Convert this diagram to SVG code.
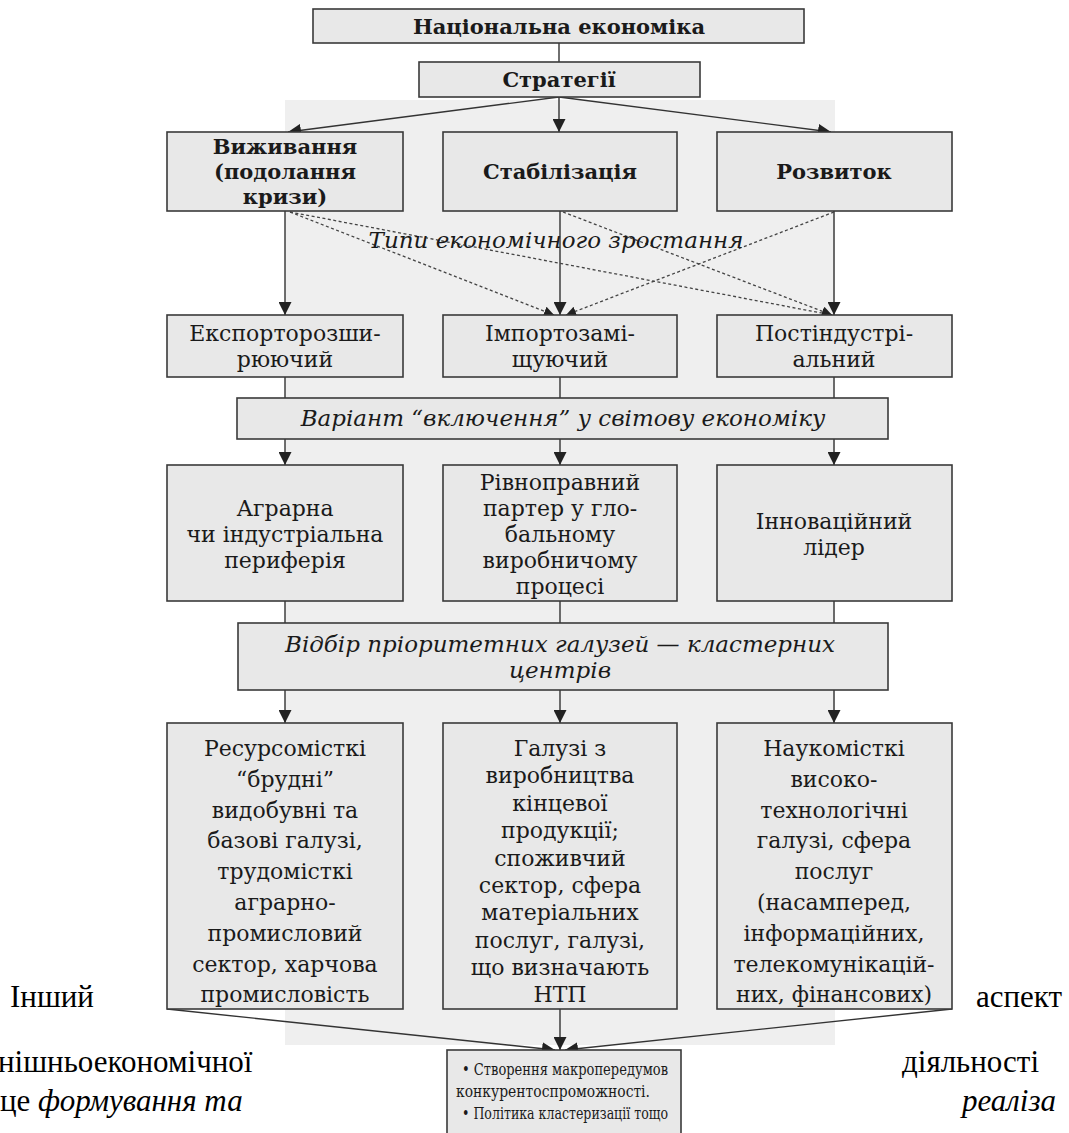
<svg xmlns="http://www.w3.org/2000/svg" width="1069" height="1133" viewBox="0 0 1069 1133">
<defs>
<marker id="ah" viewBox="0 0 10 10" refX="10" refY="5" markerWidth="10" markerHeight="10" markerUnits="userSpaceOnUse" orient="auto"><path d="M0,0 L10,5 L0,10 z" fill="#222"/></marker>
<marker id="ahl" viewBox="0 0 10 10" refX="10" refY="5" markerWidth="13" markerHeight="13" markerUnits="userSpaceOnUse" orient="auto"><path d="M0,0 L10,5 L0,10 z" fill="#222"/></marker>
</defs>
<style>
.box{fill:#e8e8e8;stroke:#3a3a3a;stroke-width:1.6}
.t{font-family:"DejaVu Serif","Liberation Serif",serif;fill:#1a1a1a;text-anchor:middle}
.b{font-weight:bold;font-size:21px}
.r{font-size:22px}
.i{font-style:italic;font-size:23px}
.s{font-size:17px;text-anchor:start}
.c{stroke:#333;stroke-width:1.4;fill:none}
.d{stroke:#444;stroke-width:1.3;stroke-dasharray:3 2.5;fill:none}
.o{font-family:"Liberation Serif","Times New Roman",serif;font-size:31px;fill:#000}
</style>
<rect x="285" y="100" width="550" height="945" fill="#efefef"/>
<g id="connectors">
<line class="c" x1="559" y1="43" x2="559" y2="62"/>
<line class="c" x1="559" y1="97" x2="288" y2="132" marker-end="url(#ahl)"/>
<line class="c" x1="559" y1="97" x2="559" y2="132" marker-end="url(#ahl)"/>
<line class="c" x1="559" y1="97" x2="831" y2="132" marker-end="url(#ahl)"/>
<line class="c" x1="285" y1="211" x2="285" y2="315" marker-end="url(#ahl)"/>
<line class="c" x1="560" y1="211" x2="560" y2="315" marker-end="url(#ahl)"/>
<line class="c" x1="834" y1="211" x2="834" y2="315" marker-end="url(#ahl)"/>
<line class="d" x1="290" y1="212" x2="554" y2="315" marker-end="url(#ah)"/>
<line class="d" x1="290" y1="212" x2="832" y2="315" marker-end="url(#ah)"/>
<line class="d" x1="563" y1="212" x2="832" y2="315" marker-end="url(#ah)"/>
<line class="d" x1="834" y1="212" x2="566" y2="315" marker-end="url(#ah)"/>
<line class="c" x1="285" y1="377" x2="285" y2="398"/>
<line class="c" x1="560" y1="377" x2="560" y2="398"/>
<line class="c" x1="834" y1="377" x2="834" y2="398"/>
<line class="c" x1="285" y1="439" x2="285" y2="465" marker-end="url(#ahl)"/>
<line class="c" x1="560" y1="439" x2="560" y2="465" marker-end="url(#ahl)"/>
<line class="c" x1="834" y1="439" x2="834" y2="465" marker-end="url(#ahl)"/>
<line class="c" x1="285" y1="601" x2="285" y2="623"/>
<line class="c" x1="560" y1="601" x2="560" y2="623"/>
<line class="c" x1="834" y1="601" x2="834" y2="623"/>
<line class="c" x1="285" y1="690" x2="285" y2="723" marker-end="url(#ahl)"/>
<line class="c" x1="560" y1="690" x2="560" y2="723" marker-end="url(#ahl)"/>
<line class="c" x1="834" y1="690" x2="834" y2="723" marker-end="url(#ahl)"/>
<line class="c" x1="167" y1="1009" x2="555" y2="1050" marker-end="url(#ahl)"/>
<line class="c" x1="560" y1="1009" x2="560" y2="1050" marker-end="url(#ahl)"/>
<line class="c" x1="952" y1="1009" x2="565" y2="1050" marker-end="url(#ahl)"/>
</g>
<g id="n-national"><rect class="box" x="313" y="9" width="491" height="34"/><text class="t b" x="559" y="34">Національна економіка</text></g>
<g id="n-strategies"><rect class="box" x="419" y="62" width="281" height="35"/><text class="t b" x="559" y="87">Стратегії</text></g>
<g id="n-survival"><rect class="box" x="167" y="132" width="236" height="79"/><text class="t b" x="285" y="154">Виживання</text><text class="t b" x="285" y="179">(подолання</text><text class="t b" x="285" y="204">кризи)</text></g>
<g id="n-stabilization"><rect class="box" x="443" y="132" width="234" height="79"/><text class="t b" x="560" y="179">Стабілізація</text></g>
<g id="n-development"><rect class="box" x="717" y="132" width="235" height="79"/><text class="t b" x="834" y="179">Розвиток</text></g>
<g id="n-growth-types"><text class="t i" x="556" y="248">Типи економічного зростання</text></g>
<g id="n-export"><rect class="box" x="167" y="315" width="236" height="62"/><text class="t r" x="285" y="341">Експорторозши-</text><text class="t r" x="285" y="367">рюючий</text></g>
<g id="n-import"><rect class="box" x="443" y="315" width="234" height="62"/><text class="t r" x="560" y="341">Імпортозамі-</text><text class="t r" x="560" y="367">щуючий</text></g>
<g id="n-postind"><rect class="box" x="717" y="315" width="235" height="62"/><text class="t r" x="834" y="341">Постіндустрі-</text><text class="t r" x="834" y="367">альний</text></g>
<g id="n-variant"><rect class="box" x="237" y="398" width="651" height="41"/><text class="t i" x="563" y="426">Варіант “включення” у світову економіку</text></g>
<g id="n-agrarian"><rect class="box" x="167" y="465" width="236" height="136"/><text class="t r" x="285" y="516">Аграрна</text><text class="t r" x="285" y="542">чи індустріальна</text><text class="t r" x="285" y="568">периферія</text></g>
<g id="n-partner"><rect class="box" x="443" y="465" width="234" height="136"/><text class="t r" x="560" y="490">Рівноправний</text><text class="t r" x="560" y="516">партер у гло-</text><text class="t r" x="560" y="542">бальному</text><text class="t r" x="560" y="568">виробничому</text><text class="t r" x="560" y="594">процесі</text></g>
<g id="n-innovator"><rect class="box" x="717" y="465" width="235" height="136"/><text class="t r" x="834" y="529">Інноваційний</text><text class="t r" x="834" y="555">лідер</text></g>
<g id="n-selection"><rect class="box" x="238" y="623" width="650" height="67"/><text class="t i" x="560" y="652">Відбір пріоритетних галузей — кластерних</text><text class="t i" x="560" y="678">центрів</text></g>
<g id="n-resource"><rect class="box" x="167" y="723" width="236" height="286"/>
<text class="t r" x="285" y="756">Ресурсомісткі</text><text class="t r" x="285" y="787">“брудні”</text><text class="t r" x="285" y="818">видобувні та</text><text class="t r" x="285" y="848">базові галузі,</text><text class="t r" x="285" y="879">трудомісткі</text><text class="t r" x="285" y="910">аграрно-</text><text class="t r" x="285" y="941">промисловий</text><text class="t r" x="285" y="972">сектор, харчова</text><text class="t r" x="285" y="1002">промисловість</text></g>
<g id="n-final"><rect class="box" x="443" y="723" width="234" height="286"/>
<text class="t r" x="560" y="756">Галузі з</text><text class="t r" x="560" y="783">виробництва</text><text class="t r" x="560" y="811">кінцевої</text><text class="t r" x="560" y="838">продукції;</text><text class="t r" x="560" y="866">споживчий</text><text class="t r" x="560" y="893">сектор, сфера</text><text class="t r" x="560" y="920">матеріальних</text><text class="t r" x="560" y="948">послуг, галузі,</text><text class="t r" x="560" y="975">що визначають</text><text class="t r" x="560" y="1002">НТП</text></g>
<g id="n-science"><rect class="box" x="717" y="723" width="235" height="286"/>
<text class="t r" x="834" y="756">Наукомісткі</text><text class="t r" x="834" y="787">високо-</text><text class="t r" x="834" y="818">технологічні</text><text class="t r" x="834" y="848">галузі, сфера</text><text class="t r" x="834" y="879">послуг</text><text class="t r" x="834" y="910">(насамперед,</text><text class="t r" x="834" y="941">інформаційних,</text><text class="t r" x="834" y="972">телекомунікацій-</text><text class="t r" x="834" y="1002">них, фінансових)</text></g>
<g id="n-result"><rect class="box" x="447" y="1050" width="234" height="95"/>
<text class="t s" x="462" y="1075" textLength="206" lengthAdjust="spacingAndGlyphs">• Створення макропередумов</text><text class="t s" x="456" y="1097" textLength="194" lengthAdjust="spacingAndGlyphs">конкурентоспроможності.</text><text class="t s" x="462" y="1119" textLength="206" lengthAdjust="spacingAndGlyphs">• Політика кластеризації тощо</text></g>
<g id="page-text">
<text class="o" x="10" y="1007">Інший</text>
<text class="o" x="1062" y="1007" text-anchor="end">аспект</text>
<text class="o" x="-2" y="1072">нішньоекономічної</text>
<text class="o" x="902" y="1072">діяльності</text>
<text class="o" x="0" y="1111">це <tspan font-style="italic">формування та</tspan></text>
<text class="o" x="962" y="1111" font-style="italic">реаліза</text>
</g>
</svg>
